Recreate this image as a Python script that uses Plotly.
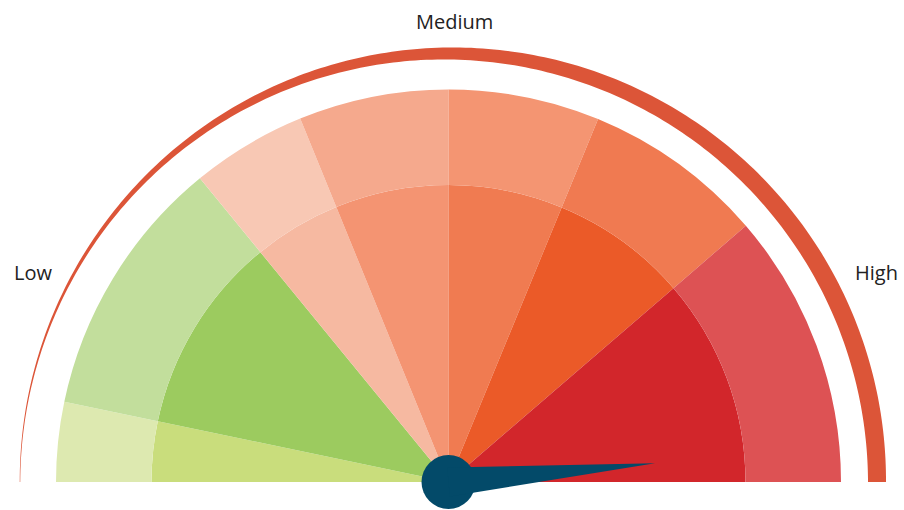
import numpy as np
import plotly.graph_objects as go

# Gauge bands, edges in degrees (0 = right end, counter-clockwise)
band_edges = [180, 168.2, 129.3, 112.2, 90, 67.6, 40.75, 0]
inner_colors = ["#c9dd7c", "#9ccb5f", "#f6b9a1", "#f49472", "#f07b51", "#eb5a28", "#d2262b"]
outer_colors = ["#dde9b0", "#c2de9c", "#f8c8b4", "#f5a98d", "#f49572", "#f07a51", "#dd5254"]
scale_labels = ["Low", "Medium", "High"]
needle_value = 97.1  # position on a 0..100 scale

# Geometry / style
INNER_R = 297
OUTER_R = 392.5
AXIS_MAX = 440
ARC_R = 428.5
NEEDLE_LEN = 207.4
NEEDLE_HALF = 14.5
ARC_COLOR = "#dc5538"
NEEDLE_COLOR = "#034a69"

W, H = 904, 510
CX, CY = 448.5, 482  # gauge centre in pixels

mids = [(a + b) / 2 for a, b in zip(band_edges[:-1], band_edges[1:])]
spans = [a - b for a, b in zip(band_edges[:-1], band_edges[1:])]

fig = go.Figure()

# inner ring
fig.add_trace(go.Barpolar(
    r=[INNER_R] * len(mids), theta=mids, width=spans, base=0,
    marker=dict(color=inner_colors, line=dict(width=0)),
    hoverinfo="skip",
))
# outer ring
fig.add_trace(go.Barpolar(
    r=[OUTER_R - INNER_R] * len(mids), theta=mids, width=spans, base=INNER_R,
    marker=dict(color=outer_colors, line=dict(width=0)),
    hoverinfo="skip",
))

# tapered outer arc: thin on the left, thick on the right
th = np.linspace(180, 0, 241)
rad = np.deg2rad(th)
thick = 9.25 + 8.75 * np.cos(rad) + 2.75 * np.sin(rad)
r_out = ARC_R + thick / 2
r_in = ARC_R - thick / 2
fig.add_trace(go.Scatterpolar(
    r=np.concatenate([r_out, r_in[::-1], r_out[:1]]),
    theta=np.concatenate([th, th[::-1], th[:1]]),
    mode="lines", fill="toself", fillcolor=ARC_COLOR,
    line=dict(width=0, color=ARC_COLOR), hoverinfo="skip",
))

# needle hub
fig.add_trace(go.Scatterpolar(
    r=[0], theta=[0], mode="markers",
    marker=dict(size=54, color=NEEDLE_COLOR, line=dict(width=0)),
    hoverinfo="skip", cliponaxis=False,
))

# pixel-scaled cartesian axes centred on the hub, used for the needle
fig.add_trace(go.Scatter(
    x=[0], y=[0], mode="markers", marker=dict(size=1, opacity=0),
    hoverinfo="skip", xaxis="x", yaxis="y",
))

ang = np.deg2rad(180 * (1 - needle_value / 100))
tip = (NEEDLE_LEN * np.cos(ang), NEEDLE_LEN * np.sin(ang))
b1 = (NEEDLE_HALF * np.cos(ang + np.pi / 2), NEEDLE_HALF * np.sin(ang + np.pi / 2))
b2 = (NEEDLE_HALF * np.cos(ang - np.pi / 2), NEEDLE_HALF * np.sin(ang - np.pi / 2))
needle_path = "M {:.2f},{:.2f} L {:.2f},{:.2f} L {:.2f},{:.2f} Z".format(*b1, *tip, *b2)
fig.add_shape(
    type="path", path=needle_path, xref="x", yref="y",
    fillcolor=NEEDLE_COLOR, line=dict(width=0), layer="above",
)

label_pos = [(32.5, 272), (454.5, 22), (876.5, 272)]
for txt, (px, py) in zip(scale_labels, label_pos):
    fig.add_annotation(
        text=txt, x=px / W, y=(H - py) / H, xref="paper", yref="paper",
        showarrow=False, xanchor="center", yanchor="middle",
        font=dict(family="Open Sans", size=20, color="#222222"),
    )

fig.update_layout(
    width=W, height=H,
    margin=dict(l=0, r=0, t=0, b=0),
    paper_bgcolor="white", plot_bgcolor="rgba(0,0,0,0)",
    showlegend=False,
    xaxis=dict(domain=[0, 1], range=[-CX, W - CX], visible=False, fixedrange=True),
    yaxis=dict(domain=[0, 1], range=[-(H - CY), CY], visible=False, fixedrange=True),
    polar=dict(
        sector=[0, 180],
        barmode="overlay",
        bgcolor="white",
        domain=dict(x=[(CX - AXIS_MAX) / W, (CX + AXIS_MAX) / W],
                    y=[(H - CY) / H, (H - CY + AXIS_MAX) / H]),
        radialaxis=dict(range=[0, AXIS_MAX], visible=False, showgrid=False),
        angularaxis=dict(visible=False, showgrid=False, rotation=0,
                         direction="counterclockwise"),
    ),
)

fig.write_html("out.html")
